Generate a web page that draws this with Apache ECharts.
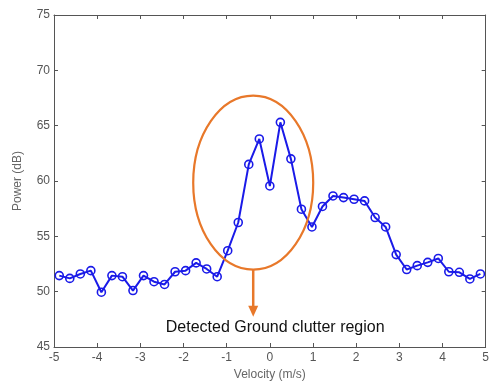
<!DOCTYPE html>
<html><head><meta charset="utf-8">
<script src="https://cdn.jsdelivr.net/npm/echarts@6/dist/echarts.min.js"></script>
<style>html,body{margin:0;padding:0;background:#fff}#c{width:492px;height:386px}</style>
</head><body><div id="c"></div>
<script>
// Velocity bins: 41 points spaced 10/41 m/s, centered on 0
const velocityIndex = [-20,-19,-18,-17,-16,-15,-14,-13,-12,-11,-10,-9,-8,-7,-6,-5,-4,-3,-2,-1,0,1,2,3,4,5,6,7,8,9,10,11,12,13,14,15,16,17,18,19,20];
const binWidth = 10 / 41;
const powerDb = [51.45,51.2,51.6,51.9,49.95,51.45,51.35,50.1,51.45,50.9,50.65,51.8,51.9,52.6,52.05,51.35,53.7,56.25,61.5,63.8,59.55,65.3,62.0,57.45,55.85,57.7,58.65,58.5,58.35,58.2,56.7,55.85,53.35,52.0,52.35,52.65,53.0,51.8,51.75,51.15,51.6];
const xTicks = [-5,-4,-3,-2,-1,0,1,2,3,4,5];
const yTicks = [45,50,55,60,65,70,75];
const annotationText = 'Detected Ground clutter region';
const ellipseCenter = [-0.385, 59.85];

const data = velocityIndex.map((k, i) => [k * binWidth, powerDb[i]]);
const font = 'Liberation Sans, Arial, sans-serif';
const axisCol = '#555';
const chart = echarts.init(document.getElementById('c'), null, {renderer: 'canvas'});
const baseX = {
  type: 'value', min: -5, max: 5, interval: 1,
  axisLine: {onZero: false, lineStyle: {color: axisCol, width: 1}},
  axisTick: {inside: true, length: 4, lineStyle: {color: axisCol}},
  splitLine: {show: false}
};
const baseY = {
  type: 'value', min: 45, max: 75, interval: 5,
  axisLine: {onZero: false, lineStyle: {color: axisCol, width: 1}},
  axisTick: {inside: true, length: 4, lineStyle: {color: axisCol}},
  splitLine: {show: false}
};
chart.setOption({
  animation: false,
  grid: {left: 54, right: 6, top: 15, bottom: 38, containLabel: false},
  xAxis: [
    Object.assign({}, baseX, {position: 'bottom',
      name: 'Velocity (m/s)', nameLocation: 'middle', nameGap: 22,
      nameTextStyle: {fontFamily: font, fontSize: 12, color: '#666'},
      axisLabel: {margin: 5, fontFamily: font, fontSize: 12, color: '#555',
        formatter: v => xTicks.includes(v) ? String(v) : ''}}),
    Object.assign({}, baseX, {position: 'top', axisLabel: {show: false}})
  ],
  yAxis: [
    Object.assign({}, baseY, {position: 'left',
      name: 'Power (dB)', nameLocation: 'middle', nameGap: 30, nameRotate: 90,
      nameTextStyle: {fontFamily: font, fontSize: 12, color: '#666'},
      axisLabel: {margin: 4, fontFamily: font, fontSize: 12, color: '#555',
        formatter: v => yTicks.includes(v) ? String(v) : ''}}),
    Object.assign({}, baseY, {position: 'right', axisLabel: {show: false}})
  ],
  series: [{
    type: 'line', data: data, xAxisIndex: 0, yAxisIndex: 0,
    symbol: 'circle', symbolSize: 8, showSymbol: true,
    lineStyle: {color: '#1a1ae8', width: 2},
    itemStyle: {color: 'rgba(0,0,0,0)', borderColor: '#1a1ae8', borderWidth: 1.6},
    clip: true
  }]
});
const c = chart.convertToPixel({xAxisIndex: 0, yAxisIndex: 0}, ellipseCenter);
const rx = 60, ry = 87;
chart.setOption({
  graphic: [
    {type: 'ellipse', shape: {cx: c[0], cy: c[1], rx: rx, ry: ry},
      style: {fill: 'none', stroke: '#e8782a', lineWidth: 2.2}, z: 100},
    {type: 'line', shape: {x1: c[0], y1: c[1] + ry, x2: c[0], y2: c[1] + ry + 40},
      style: {stroke: '#e8782a', lineWidth: 2.5}, z: 100},
    {type: 'polygon', shape: {points: [[c[0] - 5, c[1] + ry + 36], [c[0] + 5, c[1] + ry + 36], [c[0], c[1] + ry + 47]]},
      style: {fill: '#e8782a'}, z: 100},
    {type: 'text', x: c[0] + 22, y: c[1] + ry + 58,
      style: {text: annotationText, fontFamily: font, fontSize: 16, fill: '#111', align: 'center', verticalAlign: 'middle'}, z: 100}
  ]
});
</script>
</body></html>
